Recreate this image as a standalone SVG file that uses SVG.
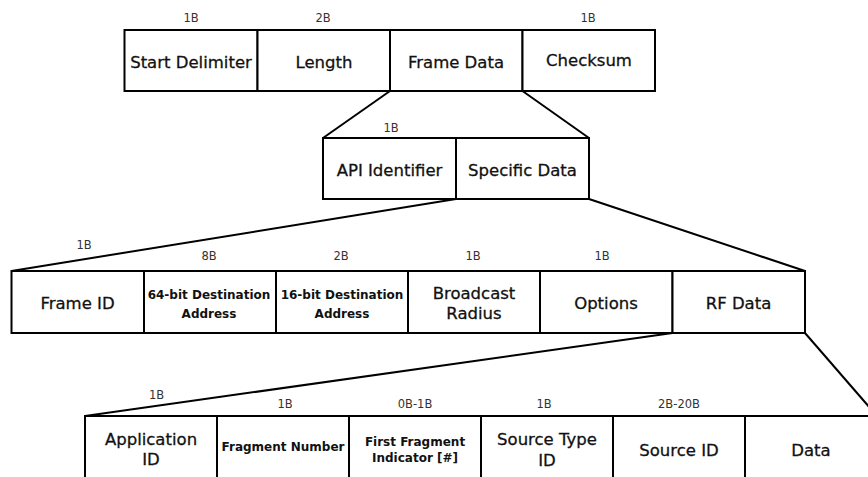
<svg xmlns="http://www.w3.org/2000/svg" width="868" height="477" viewBox="0 0 868 477">
  <style>
    .cell { fill: #ffffff; stroke: #000000; stroke-width: 2; }
    .link { fill: none; stroke: #000000; stroke-width: 2; }
    .t { font-family: "DejaVu Sans", "Liberation Sans", sans-serif; font-size: 16.5px; text-anchor: middle; fill: #111111; stroke: #111111; stroke-width: 0.3; }
    .tb { font-family: "DejaVu Sans", "Liberation Sans", sans-serif; font-size: 12px; font-weight: bold; text-anchor: middle; fill: #111111; }
    .sz { font-family: "DejaVu Sans", "Liberation Sans", sans-serif; font-size: 11.5px; text-anchor: middle; fill: #333333; }
  </style>
  <rect width="868" height="477" fill="#ffffff"/>

  <!-- connectors: each field fans out into its sub-fields -->
  <g id="connectors">
    <line class="link" x1="390" y1="91" x2="323" y2="138"/>
    <line class="link" x1="522.5" y1="91" x2="589" y2="138"/>
    <line class="link" x1="456" y1="199" x2="11.5" y2="271"/>
    <line class="link" x1="589" y1="199" x2="805" y2="271"/>
    <line class="link" x1="672.5" y1="333" x2="85" y2="416"/>
    <line class="link" x1="805" y1="333" x2="877" y2="416"/>
  </g>

  <!-- API frame -->
  <g id="start-delimiter">
    <rect class="cell" x="124.5" y="30" width="133" height="61"/>
    <text class="sz" x="191" y="22">1B</text>
    <text class="t" x="191" y="67.5">Start Delimiter</text>
  </g>
  <g id="length">
    <rect class="cell" x="257.5" y="30" width="132.5" height="61"/>
    <text class="sz" x="323" y="22">2B</text>
    <text class="t" x="324" y="67.5">Length</text>
  </g>
  <g id="frame-data">
    <rect class="cell" x="390" y="30" width="132.5" height="61"/>
    <text class="t" x="456" y="67.5">Frame Data</text>
  </g>
  <g id="checksum">
    <rect class="cell" x="522.5" y="30" width="132.5" height="61"/>
    <text class="sz" x="588" y="22">1B</text>
    <text class="t" x="589" y="66">Checksum</text>
  </g>

  <!-- frame data -->
  <g id="api-identifier">
    <rect class="cell" x="323" y="138" width="133" height="61"/>
    <text class="sz" x="391" y="132">1B</text>
    <text class="t" x="389.5" y="176">API Identifier</text>
  </g>
  <g id="specific-data">
    <rect class="cell" x="456" y="138" width="133" height="61"/>
    <text class="t" x="522.5" y="176">Specific Data</text>
  </g>

  <!-- specific data -->
  <g id="frame-id">
    <rect class="cell" x="11.5" y="271" width="132.5" height="62"/>
    <text class="sz" x="84" y="249">1B</text>
    <text class="t" x="77.5" y="309">Frame ID</text>
  </g>
  <g id="dest-64">
    <rect class="cell" x="144" y="271" width="132" height="62"/>
    <text class="sz" x="209" y="260">8B</text>
    <text class="tb" x="209" y="299">64-bit Destination</text>
    <text class="tb" x="209" y="318">Address</text>
  </g>
  <g id="dest-16">
    <rect class="cell" x="276" y="271" width="132" height="62"/>
    <text class="sz" x="341" y="260">2B</text>
    <text class="tb" x="342" y="299">16-bit Destination</text>
    <text class="tb" x="342" y="318">Address</text>
  </g>
  <g id="broadcast-radius">
    <rect class="cell" x="408" y="271" width="132" height="62"/>
    <text class="sz" x="473" y="260">1B</text>
    <text class="t" x="474" y="298.5">Broadcast</text>
    <text class="t" x="474" y="319">Radius</text>
  </g>
  <g id="options">
    <rect class="cell" x="540" y="271" width="132.5" height="62"/>
    <text class="sz" x="602" y="260">1B</text>
    <text class="t" x="606" y="309">Options</text>
  </g>
  <g id="rf-data">
    <rect class="cell" x="672.5" y="271" width="132.5" height="62"/>
    <text class="t" x="738.5" y="309">RF Data</text>
  </g>

  <!-- RF data -->
  <g id="application-id">
    <rect class="cell" x="85" y="416" width="132" height="80"/>
    <text class="sz" x="156.5" y="399">1B</text>
    <text class="t" x="151" y="445">Application</text>
    <text class="t" x="151" y="465">ID</text>
  </g>
  <g id="fragment-number">
    <rect class="cell" x="217" y="416" width="132" height="80"/>
    <text class="sz" x="285" y="408">1B</text>
    <text class="tb" x="283" y="451">Fragment Number</text>
  </g>
  <g id="first-fragment">
    <rect class="cell" x="349" y="416" width="132" height="80"/>
    <text class="sz" x="415" y="408">0B-1B</text>
    <text class="tb" x="415" y="446">First Fragment</text>
    <text class="tb" x="415" y="462">Indicator [#]</text>
  </g>
  <g id="source-type-id">
    <rect class="cell" x="481" y="416" width="132" height="80"/>
    <text class="sz" x="544" y="408">1B</text>
    <text class="t" x="547" y="445">Source Type</text>
    <text class="t" x="547" y="466">ID</text>
  </g>
  <g id="source-id">
    <rect class="cell" x="613" y="416" width="132" height="80"/>
    <text class="sz" x="679" y="408">2B-20B</text>
    <text class="t" x="679" y="455.5">Source ID</text>
  </g>
  <g id="data">
    <rect class="cell" x="745" y="416" width="132" height="80"/>
    <text class="t" x="811" y="455.5">Data</text>
  </g>
</svg>
